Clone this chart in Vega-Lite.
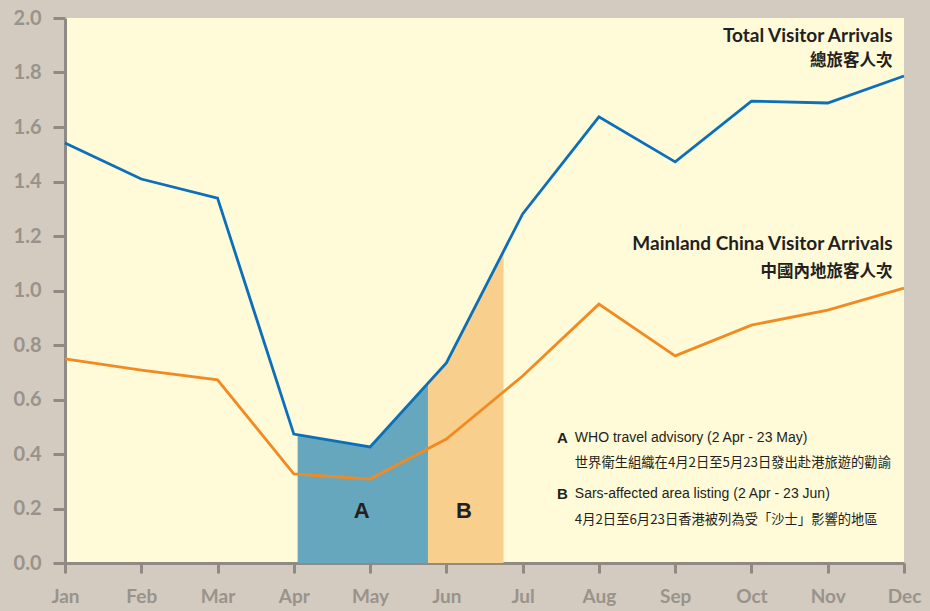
{
  "$schema": "https://vega.github.io/schema/vega-lite/v6.json",
  "autosize": "none",
  "width": 839,
  "height": 545,
  "padding": {"left": 65, "top": 18, "right": 26, "bottom": 48},
  "background": "#d3cac0",
  "view": {"fill": "#fffad8", "stroke": null},
  "datasets": {
    "series": [
      {"m": 0, "v": 1.541, "s": "Total"}, {"m": 1, "v": 1.409, "s": "Total"}, {"m": 2, "v": 1.339, "s": "Total"},
      {"m": 3, "v": 0.473, "s": "Total"}, {"m": 4, "v": 0.426, "s": "Total"}, {"m": 5, "v": 0.734, "s": "Total"},
      {"m": 6, "v": 1.281, "s": "Total"}, {"m": 7, "v": 1.637, "s": "Total"}, {"m": 8, "v": 1.472, "s": "Total"},
      {"m": 9, "v": 1.695, "s": "Total"}, {"m": 10, "v": 1.688, "s": "Total"}, {"m": 11, "v": 1.787, "s": "Total"},
      {"m": 0, "v": 0.749, "s": "Mainland"}, {"m": 1, "v": 0.708, "s": "Mainland"}, {"m": 2, "v": 0.672, "s": "Mainland"},
      {"m": 3, "v": 0.327, "s": "Mainland"}, {"m": 4, "v": 0.308, "s": "Mainland"}, {"m": 5, "v": 0.455, "s": "Mainland"},
      {"m": 6, "v": 0.686, "s": "Mainland"}, {"m": 7, "v": 0.950, "s": "Mainland"}, {"m": 8, "v": 0.760, "s": "Mainland"},
      {"m": 9, "v": 0.873, "s": "Mainland"}, {"m": 10, "v": 0.928, "s": "Mainland"}, {"m": 11, "v": 1.009, "s": "Mainland"}
    ],
    "shade": [
      {"m": 3.05, "v": 0.471, "r": "A"}, {"m": 4, "v": 0.426, "r": "A"}, {"m": 4.76, "v": 0.660, "r": "A"},
      {"m": 4.76, "v": 0.660, "r": "B"}, {"m": 5, "v": 0.734, "r": "B"}, {"m": 5.75, "v": 1.144, "r": "B"}
    ],
    "labels": [
      {"m": 10.85, "v": 1.934, "t": "Total Visitor Arrivals", "k": "title"},
      {"m": 10.85, "v": 1.842, "t": "總旅客人次", "k": "titlezh"},
      {"m": 10.85, "v": 1.172, "t": "Mainland China Visitor Arrivals", "k": "title"},
      {"m": 10.85, "v": 1.068, "t": "中國內地旅客人次", "k": "titlezh"}
    ],
    "notes": [
      {"m": 6.684, "v": 0.459, "t": "WHO travel advisory (2 Apr - 23 May)", "k": "en"},
      {"m": 6.684, "v": 0.367, "t": "世界衛生組織在4月2日至5月23日發出赴港旅遊的勸諭", "k": "zh"},
      {"m": 6.684, "v": 0.253, "t": "Sars-affected area listing (2 Apr - 23 Jun)", "k": "en"},
      {"m": 6.684, "v": 0.158, "t": "4月2日至6月23日香港被列為受「沙士」影響的地區", "k": "zh"}
    ],
    "letters": [
      {"m": 6.45, "v": 0.459, "t": "A"},
      {"m": 6.45, "v": 0.253, "t": "B"}
    ],
    "big": [
      {"m": 3.89, "v": 0.191, "t": "A"},
      {"m": 5.23, "v": 0.191, "t": "B"}
    ]
  },
  "encoding": {
    "x": {
      "field": "m", "type": "quantitative",
      "scale": {"domain": [0, 11], "nice": false, "zero": false},
      "axis": {
        "title": null, "grid": false, "values": [0,1,2,3,4,5,6,7,8,9,10,11],
        "labelExpr": "['Jan','Feb','Mar','Apr','May','Jun','Jul','Aug','Sep','Oct','Nov','Dec'][datum.value]",
        "labelFont": "Lato", "labelFontWeight": "bold", "labelFontSize": 19, "labelColor": "#99938b",
        "labelPadding": 14, "labelFlush": false, "labelOverlap": false,
        "domainColor": "#8f8a83", "domainWidth": 3, "tickColor": "#8f8a83", "tickWidth": 3, "tickSize": 10
      }
    },
    "y": {
      "field": "v", "type": "quantitative",
      "scale": {"domain": [0, 2], "nice": false},
      "axis": {
        "title": null, "grid": false, "values": [0,0.2,0.4,0.6,0.8,1.0,1.2,1.4,1.6,1.8,2.0], "format": ".1f",
        "labelFont": "Lato", "labelFontWeight": "bold", "labelFontSize": 20, "labelColor": "#99938b",
        "labelPadding": 12, "labelFlush": false, "labelOverlap": false,
        "domainColor": "#8f8a83", "domainWidth": 3, "tickColor": "#8f8a83", "tickWidth": 3, "tickSize": 12
      }
    }
  },
  "layer": [
    {
      "data": {"name": "shade"},
      "mark": {"type": "area", "opacity": 1},
      "encoding": {
        "y": {"field": "v", "type": "quantitative", "stack": null},
        "color": {"field": "r", "type": "nominal", "scale": {"domain": ["A", "B"], "range": ["#66a7bd", "#f9cf8e"]}, "legend": null}
      }
    },
    {
      "data": {"name": "series"},
      "mark": {"type": "line", "strokeWidth": 2.8},
      "encoding": {
        "stroke": {"field": "s", "type": "nominal", "scale": {"domain": ["Total", "Mainland"], "range": ["#0b6fba", "#f28a22"]}, "legend": null}
      }
    },
    {
      "data": {"name": "labels"},
      "transform": [{"filter": "datum.k == 'title'"}],
      "mark": {"type": "text", "align": "right", "baseline": "middle", "font": "Lato", "fontWeight": "bold", "fontSize": 19, "color": "#231f20"},
      "encoding": {"text": {"field": "t"}}
    },
    {
      "data": {"name": "labels"},
      "transform": [{"filter": "datum.k == 'titlezh'"}],
      "mark": {"type": "text", "align": "right", "baseline": "middle", "font": "Noto Sans CJK TC", "fontWeight": "bold", "fontSize": 16.5, "color": "#231f20"},
      "encoding": {"text": {"field": "t"}}
    },
    {
      "data": {"name": "notes"},
      "transform": [{"filter": "datum.k == 'en'"}],
      "mark": {"type": "text", "align": "left", "baseline": "middle", "font": "Liberation Sans", "fontSize": 14, "color": "#231f20"},
      "encoding": {"text": {"field": "t"}}
    },
    {
      "data": {"name": "notes"},
      "transform": [{"filter": "datum.k == 'zh'"}],
      "mark": {"type": "text", "align": "left", "baseline": "middle", "font": "Noto Sans CJK TC", "fontSize": 13.3, "color": "#231f20"},
      "encoding": {"text": {"field": "t"}}
    },
    {
      "data": {"name": "letters"},
      "mark": {"type": "text", "align": "left", "baseline": "middle", "font": "Liberation Sans", "fontWeight": "bold", "fontSize": 15, "color": "#231f20"},
      "encoding": {"text": {"field": "t"}}
    },
    {
      "data": {"name": "big"},
      "mark": {"type": "text", "align": "center", "baseline": "middle", "font": "Liberation Sans", "fontWeight": "bold", "fontSize": 22, "color": "#231f20"},
      "encoding": {"text": {"field": "t"}}
    }
  ]
}
